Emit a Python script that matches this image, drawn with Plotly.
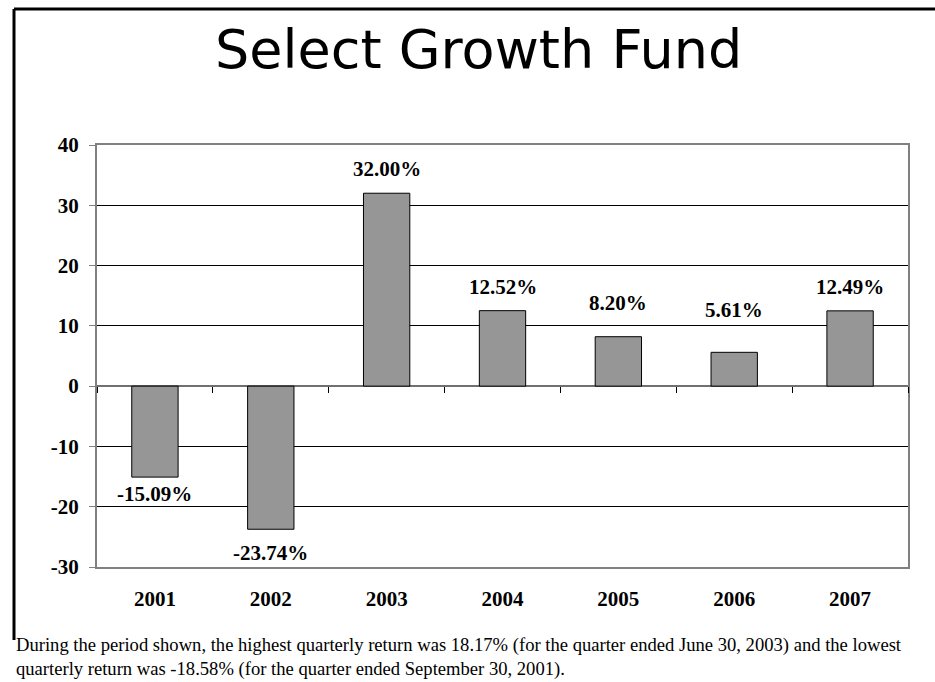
import plotly.graph_objects as go

years = ["2001", "2002", "2003", "2004", "2005", "2006", "2007"]
returns = [-15.09, -23.74, 32.00, 12.52, 8.20, 5.61, 12.49]
labels = ["-15.09%", "-23.74%", "32.00%", "12.52%", "8.20%", "5.61%", "12.49%"]
y_ticks = [-30, -20, -10, 0, 10, 20, 30, 40]
y_tick_labels = ["-30", "-20", "-10", "0", "10", "20", "30", "40"]

title_text = "Select Growth Fund"
note_line1 = ("During the period shown, the highest quarterly return was 18.17% "
              "(for the quarter ended June 30, 2003) and the lowest")
note_line2 = "quarterly return was -18.58% (for the quarter ended September 30, 2001)."

# label vertical offsets (px) from bar ends
label_offsets = [-17, -24, 24, 24, 34, 42, 24]

W, H = 935, 682
L, R, T, B = 97, 27, 145, 115
PW, PH = W - L - R, H - T - B


def px2x(px):
    return (px - L) / PW


def py2y(py):
    return (H - B - py) / PH


SERIF = "Liberation Serif, Times New Roman, serif"
n = len(years)

fig = go.Figure()
fig.add_trace(go.Bar(
    x=years, y=returns, width=0.4,
    marker=dict(color="#969696", line=dict(color="#000000", width=1)),
    hoverinfo="skip", showlegend=False,
))
# invisible helper trace so the zero-line category tick axis gets drawn
fig.add_trace(go.Scatter(
    x=years, y=returns, xaxis="x2", mode="markers",
    marker=dict(opacity=0, size=1), hoverinfo="skip", showlegend=False,
))

annotations = []
for i, (v, lab, off) in enumerate(zip(returns, labels, label_offsets)):
    annotations.append(dict(
        x=i, y=v, xref="x", yref="y", text=lab,
        showarrow=False, yshift=off, yanchor="middle", xanchor="center",
        font=dict(family=SERIF, size=21, color="#000000", weight="bold"),
    ))

annotations.append(dict(
    x=px2x(478), y=py2y(49), xref="paper", yref="paper", text=title_text,
    showarrow=False, xanchor="center", yanchor="middle",
    font=dict(family="DejaVu Sans", size=54, color="#000000"),
))
annotations.append(dict(
    x=px2x(14), y=py2y(657), xref="paper", yref="paper",
    text=note_line1 + "<br>" + note_line2, align="left",
    showarrow=False, xanchor="left", yanchor="middle",
    font=dict(family=SERIF, size=18.6, color="#000000"),
))

shapes = [
    dict(type="line", xref="paper", yref="paper",
         x0=px2x(14), x1=px2x(940), y0=py2y(9), y1=py2y(9),
         line=dict(color="#000000", width=3)),
    dict(type="line", xref="paper", yref="paper",
         x0=px2x(14), x1=px2x(14), y0=py2y(9), y1=py2y(640),
         line=dict(color="#000000", width=3)),
]

fig.update_layout(
    width=W, height=H,
    margin=dict(l=L, r=R, t=T, b=B, pad=0),
    paper_bgcolor="#ffffff", plot_bgcolor="#ffffff",
    annotations=annotations,
    shapes=shapes,
    xaxis=dict(
        type="category", range=[-0.5, n - 0.5], autorange=False,
        showgrid=False, zeroline=False,
        showline=True, linecolor="#808080", linewidth=2, mirror=True,
        ticks="", ticklabelstandoff=12,
        tickfont=dict(family=SERIF, size=21, color="#000000", weight="bold"),
    ),
    xaxis2=dict(
        type="category", overlaying="x", anchor="free", position=py2y(386),
        range=[-0.5, n - 0.5], autorange=False, tickson="boundaries",
        showgrid=False, zeroline=False, showline=False,
        ticks="outside", ticklen=6, tickcolor="#000000", tickwidth=1,
        showticklabels=False,
    ),
    yaxis=dict(
        range=[y_ticks[0], y_ticks[-1]], autorange=False,
        tickvals=y_ticks, ticktext=y_tick_labels,
        showgrid=True, gridcolor="#000000", gridwidth=1,
        zeroline=True, zerolinecolor="#707070", zerolinewidth=1.5,
        showline=True, linecolor="#808080", linewidth=2, mirror=True,
        ticks="outside", ticklen=6, tickcolor="#808080",
        ticklabelstandoff=6,
        tickfont=dict(family=SERIF, size=21, color="#000000", weight="bold"),
    ),
)

fig.write_html("out.html", config={"displayModeBar": False},
               post_script="document.body.style.margin='0';")
